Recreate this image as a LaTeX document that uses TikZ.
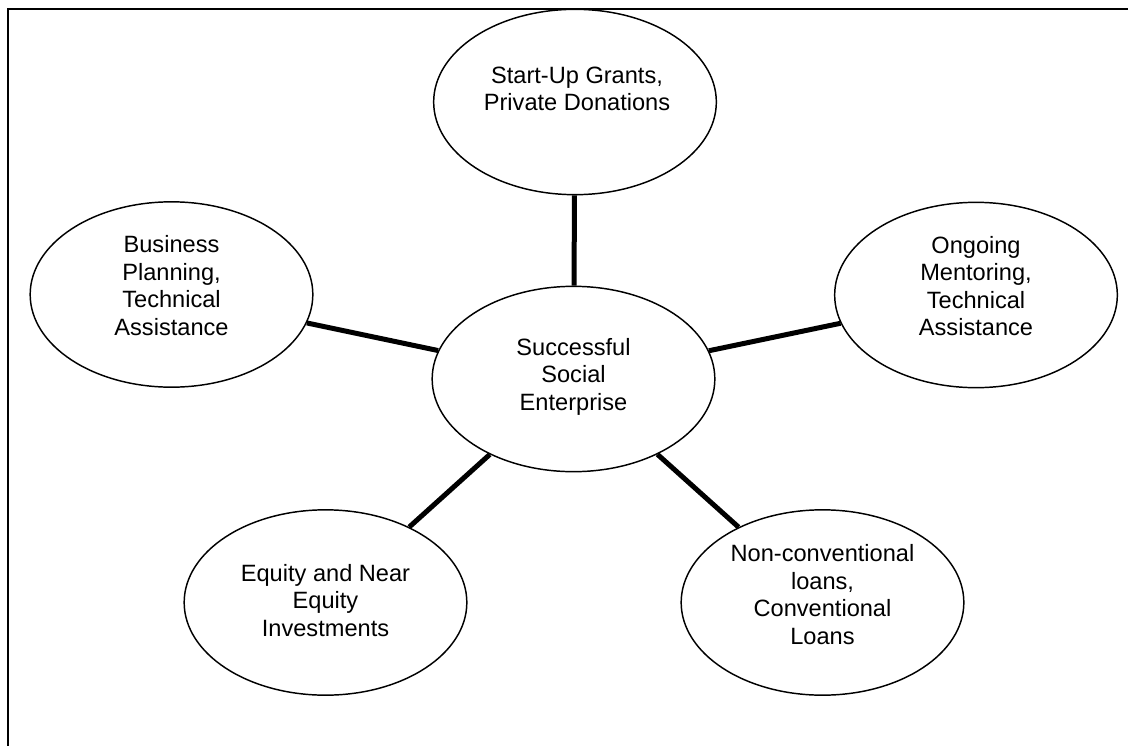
\documentclass[tikz,border=0pt]{standalone}
\usepackage{fontspec}
\setmainfont{Liberation Sans}
\usepackage{tikz}
\usetikzlibrary{shapes.geometric,calc}
\tikzset{every picture/.style={line width=0.75pt}}
\tikzset{
  bubble/.style={draw, ellipse, fill=white, line width=1.1pt, minimum width=212pt, minimum height=139pt, inner sep=0pt},
  bubtext/.style={align=center, inner sep=0pt, font=\fontsize{17.7}{20.6}\selectfont},
  spoke/.style={line width=3.75pt},
}

\begin{document}
\begin{tikzpicture}[x=0.75pt,y=0.75pt,yscale=-1,xscale=1]
		\useasboundingbox (0,0) rectangle (1128,746);
		
		%Shape: Frame
		\draw [line width=1.6pt]  (8,746) -- (8,9) -- (1128,9) ;
		
		%Shape: Ellipse [id:hub]
		\node [bubble] (hub) at (573.5,379) {};
		%Shape: Ellipse [id:grants]
		\node [bubble] (grants) at (575,102) {};
		%Shape: Ellipse [id:business]
		\node [bubble] (business) at (171.5,294.5) {};
		%Shape: Ellipse [id:mentoring]
		\node [bubble] (mentoring) at (976,295) {};
		%Shape: Ellipse [id:equity]
		\node [bubble] (equity) at (325.5,602.5) {};
		%Shape: Ellipse [id:loans]
		\node [bubble] (loans) at (822.5,602.5) {};
		
		%Straight Lines
		\draw [spoke]  (hub) -- (grants) ;
		%Straight Lines
		\draw [spoke]  (hub) -- (business) ;
		%Straight Lines
		\draw [spoke]  (hub) -- (mentoring) ;
		%Straight Lines
		\draw [spoke]  (hub) -- (equity) ;
		%Straight Lines
		\draw [spoke]  (hub) -- (loans) ;
		
		% Text Node
		\node [bubtext] (hub-txt) at ($(hub)+(0,-2.5)$) {Successful\\Social\\Enterprise};
		% Text Node
		\node [bubtext] (grants-txt) at ($(grants)+(2,-13)$) {Start-Up Grants,\\Private Donations};
		% Text Node
		\node [bubtext] (business-txt) at ($(business)+(0,-9)$) {Business\\Planning,\\Technical\\Assistance};
		% Text Node
		\node [bubtext] (mentoring-txt) at ($(mentoring)+(0,-9)$) {Ongoing\\Mentoring,\\Technical\\Assistance};
		% Text Node
		\node [bubtext] (equity-txt) at ($(equity)+(0,-2)$) {Equity and Near\\Equity\\Investments};
		% Text Node
		\node [bubtext] (loans-txt) at ($(loans)+(0,-8)$) {Non-conventional\\loans,\\Conventional\\Loans};
\end{tikzpicture}
\end{document}
